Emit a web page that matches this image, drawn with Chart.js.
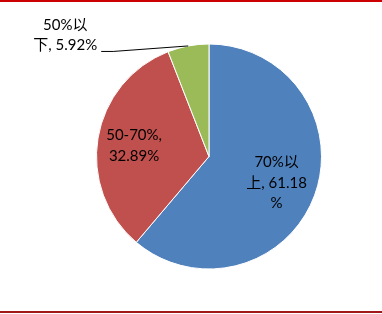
<!DOCTYPE html>
<html>
<head>
<meta charset="utf-8">
<script src="https://cdn.jsdelivr.net/npm/chart.js@4/dist/chart.umd.min.js"></script>
<style>
  html, body { margin: 0; padding: 0; background: #fff; }
  #wrap { position: relative; width: 382px; height: 314px; overflow: hidden; }
  #topline { position: absolute; left: 0; top: 0; width: 382px; height: 2px; background: #cc0000; }
  #botline { position: absolute; left: 0; top: 311px; width: 382px; height: 2px; background: #a01818; }
  canvas { position: absolute; left: 0; top: 0; }
</style>
</head>
<body>
<div id="wrap">
  <canvas id="c" width="382" height="314"></canvas>
  <div id="topline"></div>
  <div id="botline"></div>
</div>
<script>
// ---- data ----
const categories = ["70%以上", "50-70%", "50%以下"];
const values = [61.18, 32.89, 5.92];
const colors = ["#4f81bd", "#c0504d", "#9bbb59"];

// ---- label styling ----
const labelFont = "15px Lato, 'Noto Sans CJK SC', sans-serif";
// character positions where each label text wraps (layout only)
const labelBreaks = [[4, 12], [7], [4]];
const labelRadius = [0.64, 0.675, null];
const lineH = 20.5;

function splitLines(text, breaks) {
  const chars = Array.from(text);
  const lines = [];
  let start = 0;
  for (const b of breaks.concat([chars.length])) {
    const ln = chars.slice(start, b).join("").trim();
    if (ln) lines.push(ln);
    start = b;
  }
  return lines;
}

const labelPlugin = {
  id: "sliceLabels",
  afterDatasetsDraw(chart) {
    const ctx = chart.ctx;
    const meta = chart.getDatasetMeta(0);
    ctx.save();
    ctx.font = labelFont;
    ctx.fillStyle = "#000";
    ctx.textBaseline = "alphabetic";
    ctx.textAlign = "center";
    meta.data.forEach((arc, i) => {
      const p = arc.getProps(["x", "y", "startAngle", "endAngle", "outerRadius"], true);
      const mid = (p.startAngle + p.endAngle) / 2;
      const text = categories[i] + ", " + values[i].toFixed(2) + "%";
      const lines = splitLines(text, labelBreaks[i]);
      const n = lines.length;
      if (labelRadius[i] !== null) {
        const r = p.outerRadius * labelRadius[i];
        const cx = p.x + Math.cos(mid) * r;
        const cy = p.y + Math.sin(mid) * r;
        lines.forEach((ln, k) => {
          ctx.fillText(ln, cx, cy + (k - (n - 1) / 2) * lineH + 6.5);
        });
      } else {
        // outside label with leader line
        const ex = p.x + Math.cos(mid) * p.outerRadius;
        const ey = p.y + Math.sin(mid) * p.outerRadius;
        const lx = ex - 87, ly = ey + 5.5;
        ctx.strokeStyle = "#000";
        ctx.lineWidth = 1;
        ctx.beginPath();
        ctx.moveTo(ex, ey);
        ctx.lineTo(ex - 75, ly);
        ctx.lineTo(lx, ly);
        ctx.stroke();
        const maxW = Math.max(...lines.map(l => ctx.measureText(l).width));
        const bx = lx - 4 - maxW / 2;
        lines.forEach((ln, k) => {
          ctx.fillText(ln, bx, ly - 1 - (n - 1 - k) * lineH);
        });
      }
    });
    ctx.restore();
  }
};

new Chart(document.getElementById("c"), {
  type: "pie",
  data: {
    labels: categories,
    datasets: [{
      data: values,
      backgroundColor: colors,
      borderColor: "#ffffff",
      borderWidth: 1
    }]
  },
  options: {
    responsive: false,
    animation: false,
    layout: { padding: { top: 43, bottom: 44, left: 96, right: 60 } },
    plugins: { legend: { display: false }, tooltip: { enabled: false } }
  },
  plugins: [labelPlugin]
});
</script>
</body>
</html>
